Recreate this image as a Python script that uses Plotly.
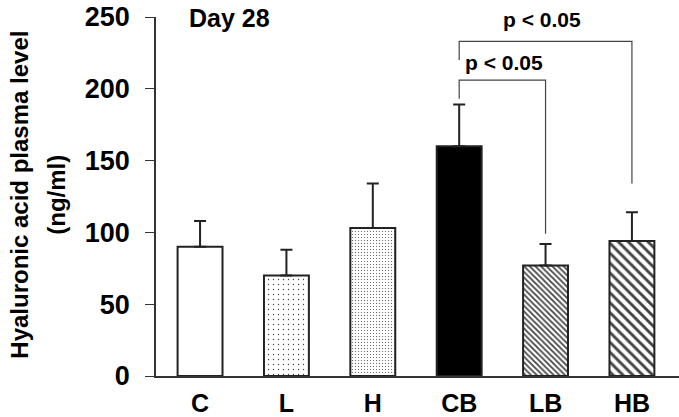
import plotly.graph_objects as go

categories = ["C", "L", "H", "CB", "LB", "HB"]
means = [90, 70, 103, 160, 77, 94]
sd_upper = [18, 18, 31, 29, 15, 20]

fills = ["white", "white", "white", "black", "white", "white"]
patterns = ["", ".", ".", "", "\\", "\\"]
pat_size = [8, 5, 3, 8, 4, 7]
pat_solidity = [0.2, 0.06, 0.1, 0.2, 0.45, 0.42]

# significance brackets
br_left = ["CB", "CB"]
br_right = ["HB", "LB"]
br_top = [233, 206]
br_left_foot = [220, 193]
br_right_foot = [134, 99]
br_label = ["p < 0.05", "p < 0.05"]
br_label_x = [3.96, 3.52]
br_label_y = [248, 218]

yticks = [0, 50, 100, 150, 200, 250]
ytitle_lines = ["Hyaluronic acid plasma level", "(ng/ml)"]

FONT = "Liberation Sans, Arial, sans-serif"

fig = go.Figure()
fig.add_trace(go.Bar(
    x=list(range(len(categories))), y=means, width=0.52,
    marker=dict(color=fills, line=dict(color="#222", width=2),
                pattern=dict(shape=patterns, size=pat_size, solidity=pat_solidity,
                             fgcolor="black", bgcolor="white", fgopacity=1,
                             fillmode="overlay")),
    error_y=dict(type="data", symmetric=False, array=sd_upper,
                 arrayminus=[0] * len(means), color="#222", thickness=2, width=6),
    showlegend=False, hoverinfo="skip"))

idx = {c: i for i, c in enumerate(categories)}
for l, r, top, lf, rf, lab, lx, ly in zip(br_left, br_right, br_top, br_left_foot,
                                          br_right_foot, br_label, br_label_x, br_label_y):
    xl, xr = idx[l], idx[r]
    fig.add_trace(go.Scatter(x=[xl, xl, xr, xr], y=[lf, top, top, rf], mode="lines",
                             line=dict(color="#444", width=1.2), showlegend=False,
                             hoverinfo="skip"))
    fig.add_annotation(x=lx, y=ly, text=lab, showarrow=False,
                       font=dict(family=FONT, size=21, color="black"),
                       xanchor="center", yanchor="middle")

fig.add_annotation(x=0.34, y=249, text="Day 28", showarrow=False,
                   font=dict(family=FONT, size=25, color="black"),
                   xanchor="center", yanchor="middle")

# y-axis title as two rotated lines
for txt, px in zip(ytitle_lines, [20, 57]):
    fig.add_annotation(xref="paper", yref="paper", x=(px - 156) / 523, y=0.505,
                       text=txt, textangle=-90, showarrow=False,
                       font=dict(family=FONT, size=24, color="black"),
                       xanchor="center", yanchor="middle")

fig.update_layout(
    width=679, height=417, margin=dict(l=156, r=0, t=17, b=41),
    plot_bgcolor="white", paper_bgcolor="white",
    font=dict(family=FONT, color="black", size=22),
    xaxis=dict(range=[-0.51, 5.545], tickvals=list(range(len(categories))),
               ticktext=categories, showline=True, linecolor="#333", linewidth=1.5,
               ticks="", showgrid=False, zeroline=False, automargin=False,
               ticklabelstandoff=4,
               tickfont=dict(family=FONT, size=25, color="black", weight="bold")),
    yaxis=dict(range=[0, 250], tickvals=yticks, showline=True, linecolor="#333",
               linewidth=1.5, ticks="outside", ticklen=9, tickcolor="#333",
               showgrid=False, zeroline=False, ticklabelstandoff=10, automargin=False,
               ticklabeloverflow="allow",
               tickfont=dict(family=FONT, size=27, color="black", weight="bold")),
)
fig.update_annotations(font_weight="bold")

# remove the default 8px page margin so the figure fills the window exactly
fig.write_html("out.html", config={"displayModeBar": False},
               post_script="document.body.style.margin='0';")
